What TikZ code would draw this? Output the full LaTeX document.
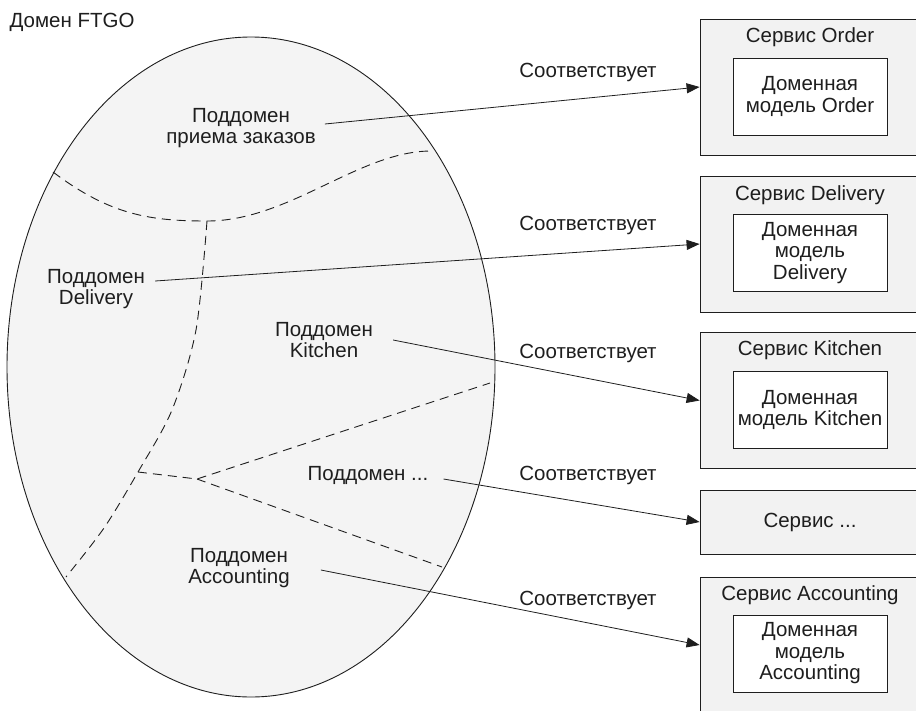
\documentclass[tikz,border=0pt]{standalone}
\usepackage{fontspec}
\setmainfont{Liberation Sans}
\usetikzlibrary{arrows.meta,shapes.geometric}
\definecolor{domfill}{HTML}{F4F4F4}
\definecolor{svcfill}{HTML}{F2F2F2}
\definecolor{ink}{HTML}{1E1E1E}
\begin{document}
\begin{tikzpicture}[x=1pt,y=-1pt,
    every node/.style={font=\fontsize{20.5}{21.5}\selectfont, text=ink},
    subdom/.style={align=center, inner sep=2pt},
    svc/.style={draw=ink, line width=0.8pt, fill=svcfill, minimum width=220pt, minimum height=136pt, inner sep=0pt},
    model/.style={draw=ink, line width=0.8pt, fill=white, align=center, minimum width=154pt, minimum height=77pt, inner sep=0pt},
    maps/.style={draw=ink, line width=0.8pt, -{Triangle[length=13pt,width=10pt]}},
    border/.style={draw=ink, line width=0.9pt, dash pattern=on 9pt off 6pt}]
    \useasboundingbox (0,0) rectangle (916,710);
    \clip (0,0) rectangle (916,710);
    \node (ftgo) at (72,22) {Домен FTGO};
    \node[ellipse, draw=ink, line width=0.9pt, fill=domfill, minimum width=488pt, minimum height=660pt, inner sep=0pt] (dom) at (251,367) {};
    \draw[border] (53,172) .. controls (110,215) and (150,221) .. (207,221) .. controls (290,221) and (360,150) .. (433,151);
    \draw[border] plot[smooth] coordinates {(207,221) (196,330) (172,410) (138,472) (104,528) (66,577)};
    \draw[border] (138,472) -- (197,479) -- (490,383);
    \draw[border] (197,479) -- (442,567);
    \node[subdom] (pord) at (241,128) {Поддомен\\приема заказов};
    \node[subdom] (pdel) at (96,289) {Поддомен\\Delivery};
    \node[subdom] (pkit) at (324,340) {Поддомен\\Kitchen};
    \node[subdom] (petc) at (368,475) {Поддомен ...};
    \node[subdom] (pacc) at (239,568) {Поддомен\\Accounting};
    \node[svc] (sord) at (810,87) {};
    \node (tord) at (810,37) {Сервис Order};
    \node[model] (mord) at (810,96.5) {Доменная\\модель Order};
    \node[svc] (sdel) at (810,244) {};
    \node (tdel) at (810,195) {Сервис Delivery};
    \node[model] (mdel) at (810,253) {Доменная\\модель\\Delivery};
    \node[svc] (skit) at (810,400.5) {};
    \node (tkit) at (810,350) {Сервис Kitchen};
    \node[model] (mkit) at (810,410) {Доменная\\модель Kitchen};
    \node[svc, minimum height=64pt] (setc) at (810,522) {Сервис ...};
    \node[svc] (sacc) at (810,645) {};
    \node (tacc) at (810,595) {Сервис Accounting};
    \node[model] (macc) at (810,653.5) {Доменная\\модель\\Accounting};
    \draw[maps] ([xshift=7pt,yshift=4pt]pord.east) -- (sord.west);
    \draw[maps] ([xshift=8pt,yshift=8pt]pdel.east) -- (sdel.west);
    \draw[maps] ([xshift=18pt]pkit.east) -- (skit.west);
    \draw[maps] ([xshift=13pt,yshift=-4pt]petc.east) -- (setc.west);
    \draw[maps] ([xshift=29pt,yshift=-2pt]pacc.east) -- (sacc.west);
    \node (cord) at (588,72) {Соответствует};
    \node (cdel) at (588,225) {Соответствует};
    \node (ckit) at (588,353) {Соответствует};
    \node (cetc) at (588,475) {Соответствует};
    \node (cacc) at (588,600) {Соответствует};
\end{tikzpicture}
\end{document}
